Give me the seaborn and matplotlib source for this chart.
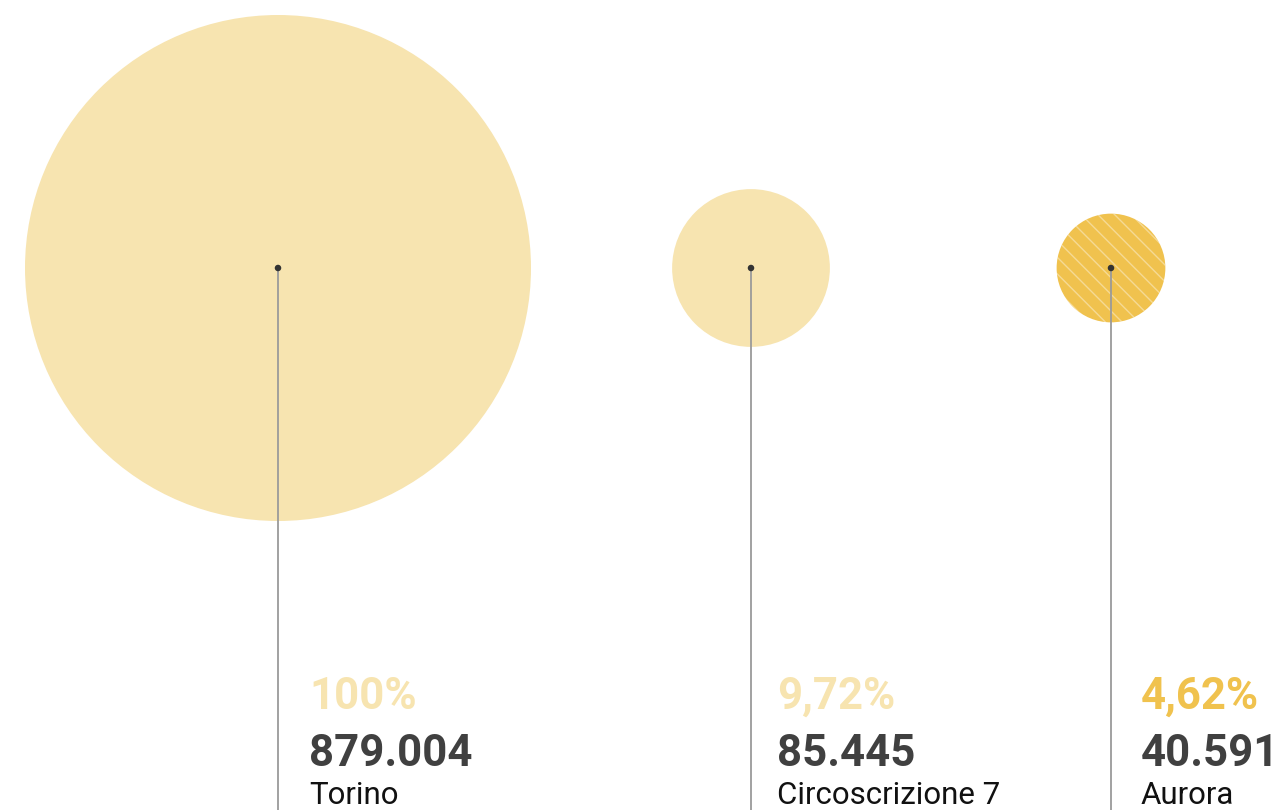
import matplotlib.pyplot as plt
import matplotlib.patches as mpatches
import seaborn as sns
import numpy as np

# data
areas = ["Torino", "Circoscrizione 7", "Aurora"]
population = [879004, 85445, 40591]
share_labels = ["100%", "9,72%", "4,62%"]

# layout (pixel coordinates)
centers_x = [278, 751, 1111]
text_x = [309, 777, 1141]
center_y = 268
r_max = 253
fills = ["#F7E4B0", "#F7E4B0", "#F0C24E"]
share_colors = ["#F7E4B0", "#F7E4B0", "#F0C24E"]

sns.set_theme(style="white")
plt.rcParams['font.family'] = ['Roboto', 'DejaVu Sans']

fig = plt.figure(figsize=(12.84, 8.10), dpi=100)
ax = fig.add_axes([0, 0, 1, 1])
ax.set_xlim(0, 1284)
ax.set_ylim(810, 0)
ax.set_axis_off()

pop = np.array(population, dtype=float)
radii = r_max * np.sqrt(pop / pop.max())

for i, name in enumerate(areas):
    cx = centers_x[i]
    circ = mpatches.Circle((cx, center_y), radii[i], facecolor=fills[i],
                           edgecolor="none", linewidth=0, zorder=1)
    ax.add_patch(circ)
    if name == "Aurora":
        hatch = mpatches.Circle((cx, center_y), radii[i], facecolor="none",
                                edgecolor=(1, 1, 1, 0.4), linewidth=0,
                                hatch="\\\\", zorder=2)
        ax.add_patch(hatch)
    ax.plot([cx, cx], [center_y, 812], color="#9a9a9a", lw=1.3, zorder=3)

    tx = text_x[i]
    ax.text(tx, 709, share_labels[i], color=share_colors[i], fontsize=31.5,
            fontweight="bold", va="baseline", ha="left")
    ax.text(tx, 766, f"{population[i]:,}".replace(",", "."), color="#404040",
            fontsize=31.5, fontweight="bold", va="baseline", ha="left")
    ax.text(tx, 804, name, color="#111111", fontsize=22.5, va="baseline", ha="left")

sns.scatterplot(x=centers_x, y=[center_y] * 3, color="#333333", s=22,
                edgecolor="none", ax=ax, zorder=4, legend=False)

fig.savefig("out.png", dpi=100)
